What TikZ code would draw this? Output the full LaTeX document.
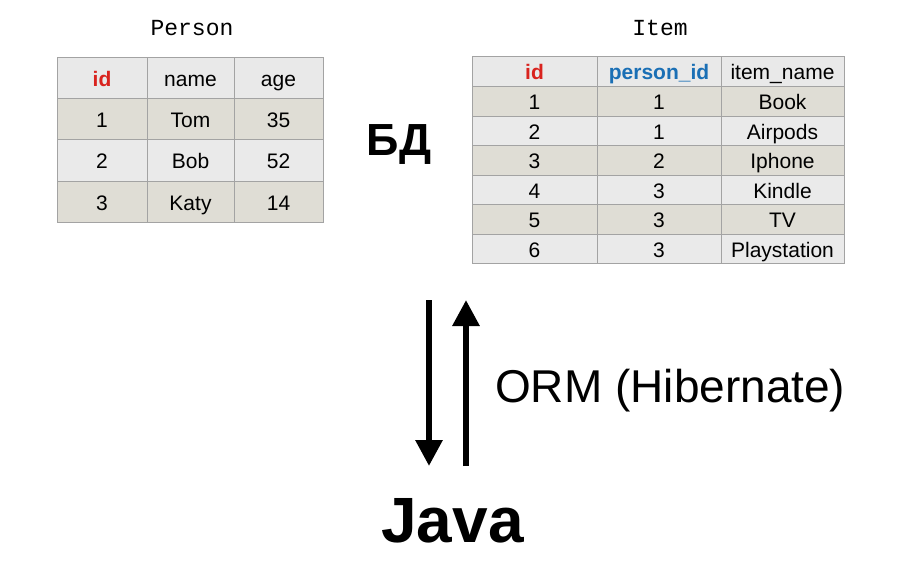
\documentclass[tikz,border=0pt]{standalone}
\usepackage{fontspec}
\setmainfont{Liberation Sans}
\newfontfamily\monof{Liberation Mono}
\usetikzlibrary{arrows.meta}
\definecolor{hdrbg}{HTML}{E9E9E9}
\definecolor{beige}{HTML}{DFDDD5}
\definecolor{lightrow}{HTML}{EAEAEA}
\definecolor{gridc}{HTML}{A3A3A3}
\definecolor{idred}{HTML}{D9231E}
\definecolor{pidblue}{HTML}{1A6FB5}
\tikzset{
  cellbox/.style={draw=gridc, line width=0.8pt, inner sep=0pt, text height=17.5pt, text depth=0pt, font=\fontsize{21}{21}\selectfont, text=black},
  titletext/.style={font=\monof\fontsize{23}{23}\selectfont, anchor=base},
  bigbold/.style={font=\bfseries\fontsize{#1}{#1}\selectfont, anchor=base},
  flow/.style={line width=6pt, -{Triangle[width=26pt,length=26pt]}},
}
% \mycell{name}{x1}{y1}{x2}{y2}{fill}{text}
\newcommand{\mycell}[7]{%
  \pgfmathsetmacro{\cw}{#4-#2}\pgfmathsetmacro{\ch}{#5-#3}%
  \pgfmathsetmacro{\cx}{(#2+#4)/2}\pgfmathsetmacro{\cy}{(#3+#5)/2}%
  \node[cellbox, fill=#6, minimum width=\cw pt, minimum height=\ch pt] (#1) at (\cx,\cy) {#7};%
}
\begin{document}
\begin{tikzpicture}[x=1pt,y=-1pt]
\useasboundingbox[fill=white] (0,0) rectangle (912,565);

% Person title
\node[titletext] (ptitle) at (192,35) {Person};
% Person table
\mycell{p00}{57}{57}{147}{98}{hdrbg}{\textcolor{idred}{\bfseries id}}
\mycell{p01}{147}{57}{234}{98}{hdrbg}{name}
\mycell{p02}{234}{57}{323}{98}{hdrbg}{age}
\mycell{p10}{57}{98}{147}{139}{beige}{1}
\mycell{p11}{147}{98}{234}{139}{beige}{Tom}
\mycell{p12}{234}{98}{323}{139}{beige}{35}
\mycell{p20}{57}{139}{147}{181}{lightrow}{2}
\mycell{p21}{147}{139}{234}{181}{lightrow}{Bob}
\mycell{p22}{234}{139}{323}{181}{lightrow}{52}
\mycell{p30}{57}{181}{147}{222}{beige}{3}
\mycell{p31}{147}{181}{234}{222}{beige}{Katy}
\mycell{p32}{234}{181}{323}{222}{beige}{14}

% Item title
\node[titletext] (ititle) at (660,35) {Item};
% Item table
\mycell{i00}{472}{56}{597}{86}{hdrbg}{\textcolor{idred}{\bfseries id}}
\mycell{i01}{597}{56}{721}{86}{hdrbg}{\textcolor{pidblue}{\bfseries person\_id}}
\mycell{i02}{721}{56}{844}{86}{hdrbg}{item\_name}
\mycell{i10}{472}{86}{597}{116}{beige}{1}
\mycell{i11}{597}{86}{721}{116}{beige}{1}
\mycell{i12}{721}{86}{844}{116}{beige}{Book}
\mycell{i20}{472}{116}{597}{145}{lightrow}{2}
\mycell{i21}{597}{116}{721}{145}{lightrow}{1}
\mycell{i22}{721}{116}{844}{145}{lightrow}{Airpods}
\mycell{i30}{472}{145}{597}{175}{beige}{3}
\mycell{i31}{597}{145}{721}{175}{beige}{2}
\mycell{i32}{721}{145}{844}{175}{beige}{Iphone}
\mycell{i40}{472}{175}{597}{204}{lightrow}{4}
\mycell{i41}{597}{175}{721}{204}{lightrow}{3}
\mycell{i42}{721}{175}{844}{204}{lightrow}{Kindle}
\mycell{i50}{472}{204}{597}{234}{beige}{5}
\mycell{i51}{597}{204}{721}{234}{beige}{3}
\mycell{i52}{721}{204}{844}{234}{beige}{TV}
\mycell{i60}{472}{234}{597}{263}{lightrow}{6}
\mycell{i61}{597}{234}{721}{263}{lightrow}{3}
\mycell{i62}{721}{234}{844}{263}{lightrow}{Playstation}

% DB label
\node[bigbold=45] (db) at (399,155) {БД};

% Arrows
\coordinate (downtop) at (429,300);
\coordinate (downbot) at (429,466);
\coordinate (uptop) at (466,300);
\coordinate (upbot) at (466,466);
\draw[flow] (downtop) -- (downbot);
\draw[flow] (upbot) -- (uptop);

\node[font=\fontsize{46}{46}\selectfont, anchor=base west, inner sep=0pt] (orm) at (495,402) {ORM (Hibernate)};

% Java
\node[bigbold=64] (java) at (452.5,542) {Java};
\end{tikzpicture}
\end{document}
